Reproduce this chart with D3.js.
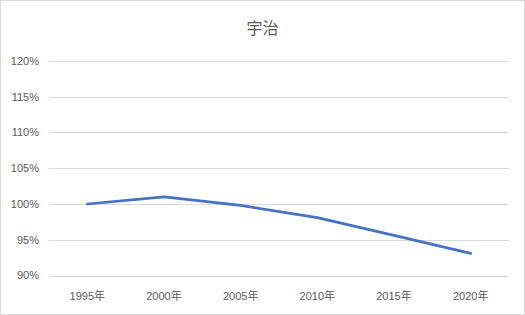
<!DOCTYPE html>
<html>
<head>
<meta charset="utf-8">
<script src="https://cdn.jsdelivr.net/npm/d3@7/dist/d3.min.js"></script>
<style>
  body { margin: 0; background: #fff; }
  text { font-family: "Liberation Sans", "Noto Sans CJK JP", sans-serif; fill: #595959; }
</style>
</head>
<body>
<svg></svg>
<script>
var width = 525,
    height = 315

var title = "宇治";
var years = ["1995年", "2000年", "2005年", "2010年", "2015年", "2020年"];
var ratios = [1.000, 1.010, 0.998, 0.981, 0.956, 0.931];
var yTicks = [0.90, 0.95, 1.00, 1.05, 1.10, 1.15, 1.20];

var margin = { top: 61, right: 16, bottom: 40, left: 49 };

var svg = d3.select("svg")
    .attr("width", width)
    .attr("height", height);

svg.append("rect")
    .attr("x", 0.5).attr("y", 0.5)
    .attr("width", width - 1).attr("height", height - 1)
    .attr("fill", "#fff")
    .attr("stroke", "#d9d9d9");

var x = d3.scaleBand()
    .domain(years)
    .range([margin.left, width - margin.right]);

var y = d3.scaleLinear()
    .domain([0.90, 1.20])
    .range([275.5, margin.top]);

// gridlines
svg.append("g")
    .selectAll("line")
    .data(yTicks)
    .enter()
    .append("line")
    .attr("x1", margin.left)
    .attr("x2", width - margin.right)
    .attr("y1", function (d) { return Math.round(y(d)) + 0.5; })
    .attr("y2", function (d) { return Math.round(y(d)) + 0.5; })
    .attr("stroke", "#d9d9d9")
    .attr("stroke-width", 1);

// y labels
svg.append("g")
    .selectAll("text")
    .data(yTicks)
    .enter()
    .append("text")
    .attr("x", 39)
    .attr("y", function (d) { return y(d); })
    .attr("dy", "0.35em")
    .attr("text-anchor", "end")
    .style("font-size", "11px")
    .text(d3.format(".0%"));

// x labels
svg.append("g")
    .selectAll("text")
    .data(years)
    .enter()
    .append("text")
    .attr("x", function (d) { return x(d) + x.bandwidth() / 2; })
    .attr("y", 296)
    .attr("dy", "0.35em")
    .attr("text-anchor", "middle")
    .style("font-size", "11px")
    .text(function (d) { return d; });

var line = d3.line()
    .x(function (d, i) { return x(years[i]) + x.bandwidth() / 2; })
    .y(function (d) { return y(d); });

svg.append("path")
    .datum(ratios)
    .attr("d", line)
    .attr("fill", "none")
    .attr("stroke", "#4472c4")
    .attr("stroke-width", 2.75)
    .attr("stroke-linecap", "round")
    .attr("stroke-linejoin", "round");

svg.append("text")
    .attr("x", width / 2)
    .attr("y", 28)
    .attr("dy", "0.35em")
    .attr("text-anchor", "middle")
    .style("font-size", "16px")
    .text(title);
</script>
</body>
</html>
